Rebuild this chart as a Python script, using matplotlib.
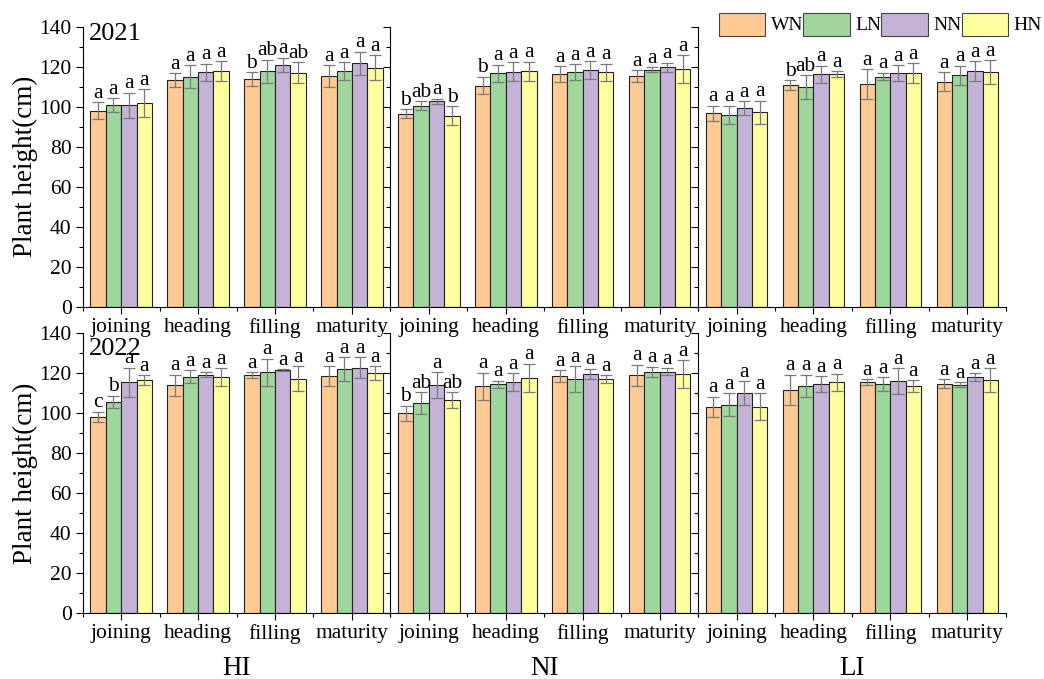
import matplotlib
matplotlib.use("Agg")
import matplotlib.pyplot as plt
import numpy as np
from matplotlib.patches import Patch
from matplotlib.ticker import MultipleLocator, FixedLocator

plt.rcParams['font.family'] = ['Liberation Serif', 'DejaVu Serif']

stages = ["joining", "heading", "filling", "maturity"]
treatments = ["WN", "LN", "NN", "HN"]
sites = ["HI", "NI", "LI"]
years = ["2021", "2022"]
colors = ["#FFCA93", "#9ED69C", "#C4B3D7", "#FFFF9F"]

# rows: stages (joining, heading, filling, maturity); cols: WN, LN, NN, HN
hi_2021_mean = [[98.0, 100.7, 100.7, 101.7], [113.3, 115.0, 117.2, 117.7],
                [113.7, 117.7, 120.8, 117.0], [115.2, 117.7, 121.7, 119.5]]
hi_2021_err = [[4.1, 3.6, 6.3, 7.0], [3.3, 5.8, 4.2, 5.0],
               [3.4, 5.7, 3.7, 5.2], [5.5, 4.6, 5.8, 6.3]]
hi_2021_sig = [["a", "a", "a", "a"], ["a", "a", "a", "a"],
               ["b", "ab", "a", "ab"], ["a", "a", "a", "a"]]

ni_2021_mean = [[96.5, 100.5, 102.7, 95.5], [110.5, 116.7, 117.5, 117.7],
                [116.2, 117.3, 118.2, 117.2], [115.2, 118.5, 119.7, 118.8]]
ni_2021_err = [[2.1, 2.3, 1.2, 4.8], [4.4, 4.3, 4.8, 4.8],
               [4.1, 3.8, 4.5, 4.3], [2.9, 1.3, 2.3, 7.0]]
ni_2021_sig = [["b", "ab", "a", "b"], ["b", "a", "a", "a"],
               ["a", "a", "a", "a"], ["a", "a", "a", "a"]]

li_2021_mean = [[96.7, 96.0, 99.2, 97.2], [110.7, 109.7, 116.2, 116.2],
                [111.2, 115.0, 116.7, 116.7], [112.5, 115.7, 117.7, 117.2]]
li_2021_err = [[3.7, 4.5, 3.4, 5.8], [2.5, 6.0, 4.3, 1.5],
               [7.5, 1.9, 4.0, 5.0], [4.8, 4.8, 5.0, 6.0]]
li_2021_sig = [["a", "a", "a", "a"], ["b", "ab", "a", "a"],
               ["a", "a", "a", "a"], ["a", "a", "a", "a"]]

hi_2022_mean = [[98.3, 105.7, 115.5, 116.5], [114.0, 118.3, 119.2, 118.0],
                [119.0, 120.5, 121.5, 117.3], [118.5, 122.0, 122.8, 120.0]]
hi_2022_err = [[2.5, 3.0, 7.2, 2.5], [5.2, 3.2, 1.3, 4.5],
               [1.5, 6.7, 0.4, 6.2], [5.0, 6.0, 5.2, 3.5]]
hi_2022_sig = [["c", "b", "a", "a"], ["a", "a", "a", "a"],
               ["a", "a", "a", "a"], ["a", "a", "a", "a"]]

ni_2022_mean = [[100.0, 105.0, 114.0, 106.5], [113.5, 114.5, 115.5, 117.7],
                [118.5, 117.0, 119.7, 117.0], [119.0, 120.8, 120.8, 119.5]]
ni_2022_err = [[3.7, 5.5, 6.6, 4.0], [6.7, 1.8, 4.5, 7.0],
               [3.0, 6.5, 2.5, 2.0], [5.2, 2.5, 1.8, 7.0]]
ni_2022_sig = [["b", "ab", "a", "ab"], ["a", "a", "a", "a"],
               ["a", "a", "a", "a"], ["a", "a", "a", "a"]]

li_2022_mean = [[103.3, 104.3, 110.0, 103.3], [111.8, 113.8, 114.5, 115.5],
                [115.5, 114.5, 116.0, 113.5], [114.8, 114.2, 118.0, 116.5]]
li_2022_err = [[5.0, 5.7, 6.0, 6.8], [7.5, 5.5, 4.0, 4.3],
               [1.5, 3.5, 6.4, 3.0], [2.3, 1.3, 2.0, 6.0]]
li_2022_sig = [["a", "a", "a", "a"], ["a", "a", "a", "a"],
               ["a", "a", "a", "a"], ["a", "a", "a", "a"]]

panels = {
    ("2021", "HI"): (hi_2021_mean, hi_2021_err, hi_2021_sig),
    ("2021", "NI"): (ni_2021_mean, ni_2021_err, ni_2021_sig),
    ("2021", "LI"): (li_2021_mean, li_2021_err, li_2021_sig),
    ("2022", "HI"): (hi_2022_mean, hi_2022_err, hi_2022_sig),
    ("2022", "NI"): (ni_2022_mean, ni_2022_err, ni_2022_sig),
    ("2022", "LI"): (li_2022_mean, li_2022_err, li_2022_sig),
}

W, H = 1044, 679
fig = plt.figure(figsize=(W / 100, H / 100), dpi=100)

left_px = 82.7
panel_w_px = 307.7
ax_h_px = 280.0
tops_px = {"2021": 26.7, "2022": 333.3}

FS = 15.5
bar_w = 0.2
offsets = np.array([-0.3, -0.1, 0.1, 0.3])
x_groups = np.arange(1, len(stages) + 1)

for yi, yr in enumerate(years):
    for si, site in enumerate(sites):
        x0 = (left_px + si * panel_w_px) / W
        y0 = 1 - (tops_px[yr] + ax_h_px) / H
        ax = fig.add_axes([x0, y0, panel_w_px / W, ax_h_px / H])
        ax.patch.set_visible(False)
        mean, err, sig = panels[(yr, site)]
        mean = np.array(mean)
        err = np.array(err)
        for ti in range(len(treatments)):
            xs = x_groups + offsets[ti]
            ax.bar(xs, mean[:, ti], width=bar_w, color=colors[ti],
                   edgecolor="#222222", linewidth=0.8, zorder=2)
            ax.errorbar(xs, mean[:, ti], yerr=err[:, ti], fmt="none",
                        ecolor="#7a7a7a", elinewidth=0.9, capsize=4,
                        capthick=0.9, zorder=3)
            for gi in range(len(stages)):
                ax.text(xs[gi], mean[gi, ti] + err[gi, ti] + 2.2, sig[gi][ti],
                        ha="center", va="baseline", fontsize=FS, zorder=4)
        ax.set_xlim(0.5, 4.5)
        ax.set_ylim(0, 140)
        ax.set_xticks(x_groups)
        ax.set_xticklabels(stages, fontsize=FS)
        ax.xaxis.set_minor_locator(FixedLocator([0.5, 1.5, 2.5, 3.5, 4.5]))
        ax.tick_params(axis="x", which="major", direction="out", length=5,
                       width=0.8, pad=3)
        ax.tick_params(axis="x", which="minor", direction="out", length=3,
                       width=0.8)
        ax.yaxis.set_major_locator(MultipleLocator(20))
        ax.yaxis.set_minor_locator(MultipleLocator(10))
        ax.spines["top"].set_visible(False)
        ax.spines["right"].set_visible(False)
        for sp in ax.spines.values():
            sp.set_linewidth(0.8)
        # left ticks point outward (into the neighbouring panel for columns 2, 3)
        ax.tick_params(axis="y", which="major", direction="out", length=5,
                       width=0.8, labelsize=FS, pad=3, right=False,
                       labelleft=(si == 0))
        ax.tick_params(axis="y", which="minor", direction="out", length=3,
                       width=0.8, right=False)
        if si == 0:
            ax.set_ylabel("Plant height(cm)", fontsize=19.5, labelpad=1)
            ax.text(0.58, 133.5 if yr == "2021" else 129, yr, fontsize=19,
                    ha="left", va="baseline")
        if yi == 1:
            ax.text(0.5, (613.3 - 675) / ax_h_px, site, transform=ax.transAxes,
                    fontsize=19.5, ha="center", va="baseline")

handles = [Patch(facecolor=c, edgecolor="#444444", linewidth=0.8) for c in colors]
fig.legend(handles, treatments, loc="upper left",
           bbox_to_anchor=(719 / W, 1 - 12.5 / H), ncol=4, frameon=False,
           borderpad=0, borderaxespad=0, handlelength=2.37, handleheight=1.45,
           handletextpad=0.3, columnspacing=0.0, fontsize=14)

fig.savefig("out.png", dpi=100)
